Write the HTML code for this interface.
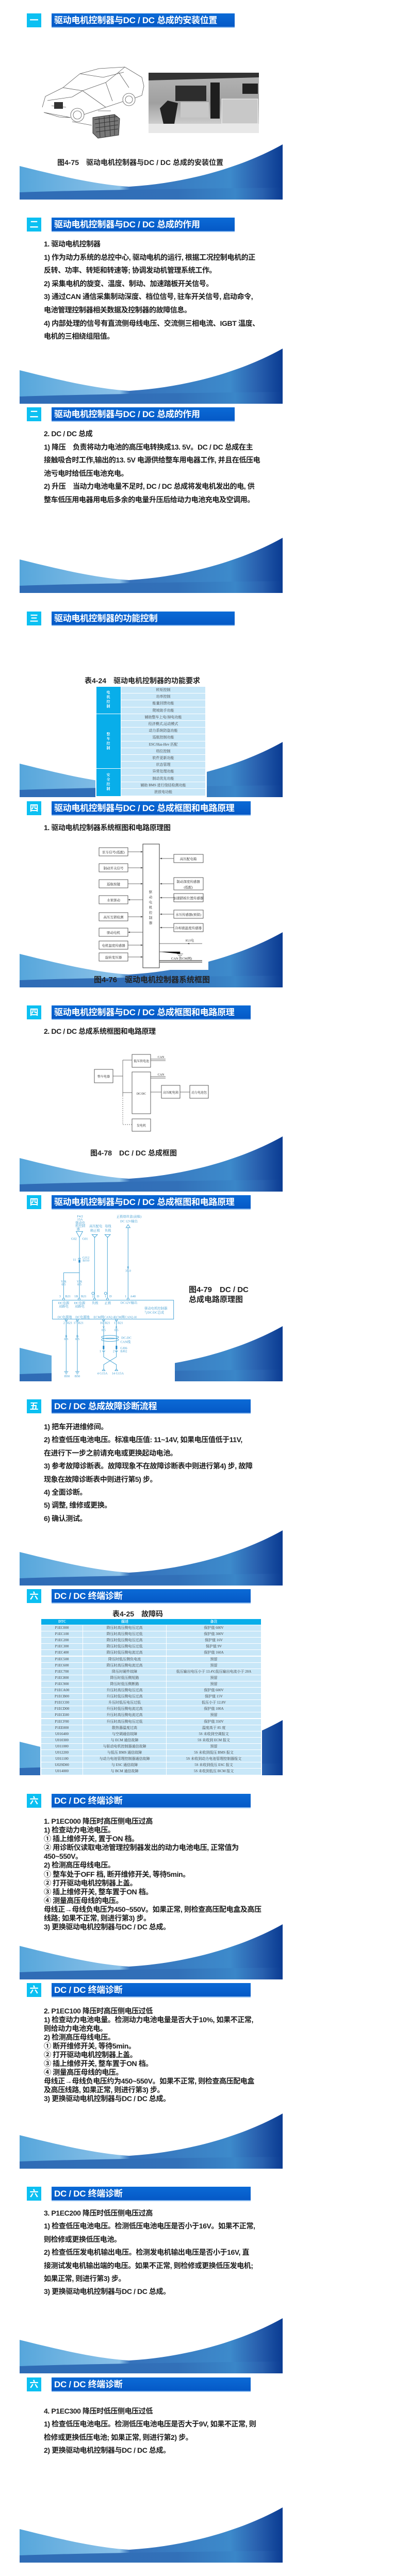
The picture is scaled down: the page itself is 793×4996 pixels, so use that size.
<!DOCTYPE html>
<html><head><meta charset="utf-8">
<style>
*{margin:0;padding:0;box-sizing:border-box}
html,body{width:793px;height:4996px;background:#fff;overflow:hidden}
body{position:relative;font-family:"Liberation Sans","Noto Sans CJK SC",sans-serif;color:#1a1a1a}
svg.bg{position:absolute;left:0;top:0}
.n{position:absolute;left:52px;width:28px;height:27px;background:#0cc0f2;color:#fff;font-weight:bold;font-size:17px;line-height:27px;text-align:center}
.t{position:absolute;left:100px;height:28px;background:linear-gradient(#0b6ad6,#0559c6);border-bottom:2px solid #8bbbf0;color:#fff;font-weight:bold;font-size:17px;line-height:27px;padding-left:5px;white-space:nowrap;letter-spacing:-0.3px}
.p{position:absolute;left:85px;font-weight:bold;font-size:14px;white-space:nowrap;letter-spacing:-0.4px;color:#1c1c1c}
.cap{position:absolute;font-weight:bold;font-size:14px;white-space:nowrap;color:#222}
.tb{position:absolute;font-family:"Liberation Serif","Noto Serif CJK SC",serif;font-size:7px;color:#444}
.tb div{position:absolute;text-align:center;white-space:nowrap;overflow:hidden}
</style></head><body>
<svg class="bg" width="793" height="4996" viewBox="0 0 793 4996" xmlns="http://www.w3.org/2000/svg">
<defs>
<linearGradient id="g1" x1="0" x2="1" y1="0" y2="0">
<stop offset="0" stop-color="#56a6db"/><stop offset="0.38" stop-color="#8cc2e9"/><stop offset="0.42" stop-color="#3672bb"/><stop offset="0.8" stop-color="#3d8acb"/><stop offset="0.9" stop-color="#2a62b0"/><stop offset="1" stop-color="#0a3b92"/>
</linearGradient>
<linearGradient id="g2" x1="0" x2="1" y1="0" y2="0">
<stop offset="0" stop-color="#2f6cb6"/><stop offset="0.6" stop-color="#3270b8"/><stop offset="0.82" stop-color="#3a86c8"/><stop offset="0.92" stop-color="#2a62b0"/><stop offset="1" stop-color="#0a3b92"/>
</linearGradient>
<linearGradient id="ph" x1="0" x2="0" y1="0" y2="1">
<stop offset="0" stop-color="#b5b5b5"/><stop offset="0.5" stop-color="#a0a0a0"/><stop offset="1" stop-color="#e0e0e0"/>
</linearGradient>
<g id="w">
<path d="M0,42 C80,62 150,78 212,82 C320,76 430,45 510,0 L510,107 L0,107Z" fill="url(#g1)"/>
<path d="M0,93 C150,88 330,86 510,84 L510,107 L0,107Z" fill="url(#g2)"/>
</g>
</defs>
<use href="#w" transform="translate(38,280)"/>
<use href="#w" transform="translate(38,676)"/>
<use href="#w" transform="translate(38,1043)"/>
<use href="#w" transform="translate(38,1439)"/>
<use href="#w" transform="translate(38,1808)"/>
<use href="#w" transform="translate(38,2204)"/>
<use href="#w" transform="translate(38,2572)"/>
<use href="#w" transform="translate(38,2968)"/>
<use href="#w" transform="translate(38,3336)"/>
<use href="#w" transform="translate(38,3732)"/>
<use href="#w" transform="translate(38,4099)"/>
<use href="#w" transform="translate(38,4496)"/>
<use href="#w" transform="translate(38,4863)"/>

<!-- slide 1 images -->
<g fill="none" stroke="#555" stroke-width="0.8">
<path d="M82,208 L88,187 L122,170 L155,143 L192,133 L242,130 L275,150 L279,167 L275,185 L262,190 M238,197 L163,222 M137,228 L115,227 L85,218 Z"/>
<path d="M122,170 L160,176 L205,160 L230,140 L242,130 M160,176 L205,208 M205,160 L218,196 M230,140 L250,170 M155,143 L200,150 L240,140"/>
<path d="M92,195 L140,188 L160,176 M100,205 L128,208"/>
<circle cx="250" cy="193" r="12"/><circle cx="250" cy="193" r="7"/>
<circle cx="150" cy="223" r="13"/><circle cx="150" cy="223" r="8"/>
<path d="M140,236 L178,243 M190,215 L215,215"/>
</g>
<rect x="105" y="198" width="17" height="13" fill="#333"/>
<g stroke="#333" stroke-width="1" fill="#777">
<path d="M180,228 L222,222 L232,230 L230,262 L190,268 L180,258 Z"/>
<path d="M183,232 L228,226 M184,240 L229,234 M185,248 L229,242 M186,256 L229,250 M192,228 L194,266 M202,226 L204,266 M212,224 L214,264 M222,222 L222,262" fill="none"/>
</g>
<rect x="288" y="141" width="214" height="117" fill="url(#ph)"/>
<path d="M288,141 L502,141 L502,150 L288,156Z" fill="#333"/>
<rect x="340" y="166" width="60" height="30" fill="#2d2d2d"/>
<rect x="350" y="198" width="55" height="30" fill="#c8c8c8"/>
<path d="M310,210 L325,195 L345,200 L338,240 L318,245Z" fill="#222"/>
<rect x="408" y="160" width="18" height="70" fill="#1e1e1e"/>
<rect x="430" y="192" width="70" height="48" fill="#c8c8c8" stroke="#eee" stroke-width="1.2"/>
<rect x="288" y="240" width="214" height="18" fill="#e8e8e8"/>
<rect x="470" y="162" width="30" height="20" fill="#222"/>

<!-- table 4-24 bg -->
<rect x="185" y="1330" width="216" height="217" fill="#fff"/>
<!-- fig 4-76 -->
<rect x="182" y="1625" width="222" height="256" fill="#fff"/>
<g stroke="#333" stroke-width="0.8" fill="#fff">
<rect x="277" y="1637" width="32" height="240" stroke-width="1"/>
<rect x="192" y="1644" width="56" height="16"/><rect x="192" y="1675" width="56" height="16"/>
<rect x="192" y="1706" width="56" height="16"/><rect x="192" y="1737" width="56" height="16"/>
<rect x="192" y="1770" width="56" height="16"/><rect x="192" y="1800" width="56" height="16"/>
<rect x="192" y="1825" width="56" height="16"/><rect x="192" y="1848" width="56" height="16"/>
<rect x="337" y="1657" width="57" height="16"/><rect x="337" y="1702" width="57" height="24"/>
<rect x="337" y="1733" width="57" height="16"/><rect x="337" y="1765" width="57" height="16"/>
<rect x="337" y="1791" width="57" height="16"/>
</g>
<g stroke="#444" stroke-width="0.7">
<path d="M248,1652H277M248,1683H277M248,1714H277M248,1745H277M248,1778H277M248,1808H277M248,1833H277M248,1856H277"/>
<path d="M310,1665H337M310,1714H337M310,1741H337M310,1773H337M310,1799H337M309,1830H392M309,1846H349V1850M343,1850H355M345,1853H353M347,1856H351"/>
<path d="M309,1863H392M309,1866H392" stroke-width="1.2"/>
</g>
<g fill="#444">
<path d="M277,1652l-4,-1.5v3zM277,1683l-4,-1.5v3zM277,1714l-4,-1.5v3zM248,1745l4,-1.5v3zM277,1778l-4,-1.5v3zM248,1808l4,-1.5v3zM277,1833l-4,-1.5v3zM277,1856l-4,-1.5v3z"/>
<path d="M310,1665l4,-1.5v3zM310,1714l4,-1.5v3zM310,1741l4,-1.5v3zM310,1773l4,-1.5v3zM310,1799l4,-1.5v3zM363,1830l4,-1.5v3z"/>
</g>
<g font-family="Liberation Serif,Noto Serif CJK SC,serif" font-size="6.5" fill="#222" text-anchor="middle">
<text x="220" y="1655">驻车信号(低配)</text><text x="220" y="1686">制动开关信号</text>
<text x="220" y="1717">巡航按键</text><text x="220" y="1748">水泵驱动</text>
<text x="220" y="1781">高压互锁检测</text><text x="220" y="1811">驱动电机</text>
<text x="220" y="1836">电机温度传感器</text><text x="220" y="1859">旋转变压器</text>
<text x="365" y="1668">高压配电箱</text><text x="365" y="1712">制动深度传感器</text><text x="365" y="1723">(低配)</text>
<text x="365" y="1744">加速踏板位置传感器</text><text x="365" y="1776">水压传感器(预留)</text>
<text x="365" y="1802">冷却液温度传感器</text>
<text x="368" y="1826">IG1电</text><text x="352" y="1861">CAN (ECM网)</text>
<text x="292" y="1732">驱</text><text x="292" y="1742">动</text><text x="292" y="1752">电</text><text x="292" y="1762">机</text><text x="292" y="1772">控</text><text x="292" y="1782">制</text><text x="292" y="1792">器</text>
</g>

<!-- fig 4-78 -->
<g stroke="#333" stroke-width="0.8" fill="#fff">
<rect x="256" y="2045" width="36" height="25"/><rect x="183" y="2074" width="36" height="26"/>
<rect x="256" y="2079" width="36" height="81"/><rect x="313" y="2105" width="36" height="25"/>
<rect x="368" y="2105" width="36" height="25"/><rect x="256" y="2170" width="36" height="24"/>
</g>
<g stroke="#444" stroke-width="0.7" fill="none">
<path d="M238,2056V2125M238,2056H256M219,2087H238M238,2119H256M292,2118H313M349,2118H368"/>
<path d="M238,2125V2181H256" stroke-dasharray="2,2"/>
<path d="M292,2054H321M292,2057H321M292,2088H321M292,2091H321"/>
</g>
<g font-family="Liberation Serif,Noto Serif CJK SC,serif" font-size="6" fill="#222" text-anchor="middle">
<text x="274" y="2060">低压铁电池</text><text x="201" y="2090">整车电器</text><text x="274" y="2123">DC/DC</text>
<text x="331" y="2121">高压配电箱</text><text x="386" y="2121">动力电池包</text><text x="274" y="2185">发电机</text>
<text x="312" y="2052">CAN</text><text x="312" y="2086">CAN</text>
</g>

<!-- fig 4-79 -->
<rect x="100" y="2345" width="239" height="334" fill="#fff"/>
<g transform="translate(95,2345) scale(0.3333)">
<g stroke="#4aa6d6" stroke-width="3" fill="none">
<rect x="20" y="530" width="705" height="110"/>
<path d="M177,165V520M85,370H177M85,370V520M265,160V520M340,160V520M460,105V520"/>
<path d="M158,130H196L177,165Z M250,148H282L266,165Z M325,148H357L341,165Z M448,108H472L460,90Z"/>
<path d="M100,645V945M165,645V945M318,645V840M392,645V840"/>
<path d="M88,945H112M92,952H108M96,959H104M153,945H177M157,952H173M161,959H169"/>
<ellipse cx="355" cy="745" rx="50" ry="10"/><ellipse cx="355" cy="760" rx="50" ry="10"/>
<path d="M318,840L318,860L392,905V930M392,840V860L318,905V930"/>
<path d="M310,940L318,930L326,940ZM384,940L392,930L400,940Z"/>
<circle cx="85" cy="524" r="6"/><circle cx="175" cy="524" r="6"/><circle cx="265" cy="524" r="6"/><circle cx="340" cy="524" r="6"/><circle cx="460" cy="524" r="6"/>
<circle cx="100" cy="646" r="6"/><circle cx="165" cy="646" r="6"/><circle cx="318" cy="646" r="6"/><circle cx="392" cy="646" r="6"/>
<circle cx="256" cy="490" r="7"/><circle cx="329" cy="490" r="7"/>
<path d="M170,292a7,7 0 0 1 14,0M311,823a7,7 0 0 0 14,0M385,823a7,7 0 0 0 14,0"/>
</g>
<g fill="#1f86c9"><rect x="172" y="295" width="10" height="16"/><rect x="313" y="795" width="9" height="20"/><rect x="388" y="795" width="9" height="20"/></g>
<g font-family="Liberation Serif,Noto Serif CJK SC,serif" font-size="19" fill="#3b9ad0" text-anchor="middle">
<text x="180" y="48">F4/2</text><text x="180" y="66">15A</text><text x="182" y="85">驱动电</text><text x="182" y="104">机控制</text><text x="170" y="123">器</text>
<text x="145" y="178">G02</text><text x="210" y="178">G01</text>
<text x="148" y="300">11</text><text x="215" y="288">GJ12</text><text x="215" y="305">BJ10</text>
<text x="272" y="105">高压配电</text><text x="268" y="130">箱正极</text><text x="343" y="105">母线</text><text x="343" y="130">负极</text>
<text x="465" y="50">正极熔丝盒(前舱)</text><text x="465" y="76">DC 12V输出</text>
<text x="460" y="345">R</text><text x="460" y="365">35.0</text>
<text x="85" y="428">Y/R</text><text x="85" y="444">0.5</text><text x="177" y="428">Y/R</text><text x="177" y="444">0.5</text>
<text x="64" y="513">3</text><text x="110" y="513">B21</text><text x="158" y="513">1B</text><text x="202" y="513">B21</text>
<text x="255" y="513">2</text><text x="285" y="513">D</text><text x="328" y="513">1</text><text x="358" y="513">D</text>
<text x="446" y="513">1</text><text x="488" y="513">A40</text>
<text x="85" y="552">DC电源</text><text x="85" y="572">双路电</text><text x="178" y="552">DC电源</text><text x="178" y="572">双路电</text>
<text x="268" y="552">负极</text><text x="342" y="552">正极</text><text x="465" y="550">DC12V输出</text>
<text x="622" y="583">驱动电机控制器</text><text x="612" y="607">与DC/DC总成</text>
<text x="92" y="635">DC电源地</text><text x="195" y="635">DC电源地</text><text x="323" y="635">ECM网CAN2-L</text><text x="445" y="635">ECM网CAN2-H</text>
<text x="88" y="668">2</text><text x="120" y="668">B21</text><text x="152" y="668">17</text><text x="185" y="668">B21</text>
<text x="305" y="668">16</text><text x="340" y="668">B21</text><text x="382" y="668">1</text><text x="415" y="668">B21</text>
<text x="318" y="694">V</text><text x="318" y="710">0.5</text><text x="392" y="694">P</text><text x="392" y="710">0.5</text>
<text x="100" y="745">B</text><text x="100" y="762">0.5</text><text x="165" y="745">B</text><text x="165" y="762">0.5</text>
<text x="450" y="755">DC-DC</text><text x="445" y="778">CAN线</text>
<text x="298" y="832">1</text><text x="376" y="832">2</text><text x="435" y="815">GJ06</text><text x="435" y="832">BJ02</text>
<text x="310" y="962">4 G15A</text><text x="400" y="962">14 G15A</text>
<text x="105" y="978">B50</text><text x="165" y="978">B50</text>
</g>
</g>

<!-- table 4-25 bg -->
<rect x="78" y="3137" width="430" height="307" fill="#fff"/>
</svg>

<!-- titles -->
<div class="n" style="top:26px">一</div><div class="t" style="top:26px;width:355px">驱动电机控制器与DC / DC 总成的安装位置</div>
<div class="n" style="top:422px">二</div><div class="t" style="top:422px;width:355px">驱动电机控制器与DC / DC 总成的作用</div>
<div class="n" style="top:790px">二</div><div class="t" style="top:790px;width:355px">驱动电机控制器与DC / DC 总成的作用</div>
<div class="n" style="top:1186px">三</div><div class="t" style="top:1186px;width:355px">驱动电机控制器的功能控制</div>
<div class="n" style="top:1554px">四</div><div class="t" style="top:1554px;width:386px">驱动电机控制器与DC / DC 总成框图和电路原理</div>
<div class="n" style="top:1950px">四</div><div class="t" style="top:1950px;width:386px">驱动电机控制器与DC / DC 总成框图和电路原理</div>
<div class="n" style="top:2318px">四</div><div class="t" style="top:2318px;width:386px">驱动电机控制器与DC / DC 总成框图和电路原理</div>
<div class="n" style="top:2714px">五</div><div class="t" style="top:2714px;width:386px">DC / DC 总成故障诊断流程</div>
<div class="n" style="top:3082px">六</div><div class="t" style="top:3082px;width:386px">DC / DC 终端诊断</div>
<div class="n" style="top:3479px">六</div><div class="t" style="top:3479px;width:386px">DC / DC 终端诊断</div>
<div class="n" style="top:3846px">六</div><div class="t" style="top:3846px;width:386px">DC / DC 终端诊断</div>
<div class="n" style="top:4241px">六</div><div class="t" style="top:4241px;width:386px">DC / DC 终端诊断</div>
<div class="n" style="top:4611px">六</div><div class="t" style="top:4611px;width:386px">DC / DC 终端诊断</div>

<div class="cap" style="left:111px;top:305px">图4-75　驱动电机控制器与DC / DC 总成的安装位置</div>

<div class="p" style="top:461px;line-height:25.6px">1. 驱动电机控制器<br>1) 作为动力系统的总控中心, 驱动电机的运行, 根据工况控制电机的正<br>反转、功率、转矩和转速等; 协调发动机管理系统工作。<br>2) 采集电机的旋变、温度、制动、加速踏板开关信号。<br>3) 通过CAN 通信采集制动深度、档位信号, 驻车开关信号, 启动命令,<br>电池管理控制器相关数据及控制器的故障信息。<br>4) 内部处理的信号有直流侧母线电压、交流侧三相电流、IGBT 温度、<br>电机的三相绕组阻值。</div>

<div class="p" style="top:829px;line-height:25.6px">2. DC / DC 总成<br>1) 降压　负责将动力电池的高压电转换成13. 5V。DC / DC 总成在主<br>接触吸合时工作,输出的13. 5V 电源供给整车用电器工作, 并且在低压电<br>池亏电时给低压电池充电。<br>2) 升压　当动力电池电量不足时, DC / DC 总成将发电机发出的电, 供<br>整车低压用电器用电后多余的电量升压后给动力电池充电及空调用。</div>

<div class="cap" style="left:164px;top:1310px">表4-24　驱动电机控制器的功能要求</div>
<div class="tb" style="left:187px;top:1332px;width:211px;height:212px">
<div style="left:0;top:0;width:47px;height:52px;background:#08aeea"></div>
<div style="left:0;top:53px;width:47px;height:105px;background:#08aeea"></div>
<div style="left:0;top:159px;width:47px;height:53px;background:#08aeea"></div>
<div style="left:18px;top:7px;width:10px;color:#fff;white-space:normal;line-height:9px;font-weight:bold">电机控制</div>
<div style="left:18px;top:88px;width:10px;color:#fff;white-space:normal;line-height:9px;font-weight:bold">整车控制</div>
<div style="left:18px;top:167px;width:10px;color:#fff;white-space:normal;line-height:9px;font-weight:bold">安全控制</div>
<div style="left:48px;top:0;width:163px;height:12.2px;line-height:12px;background:#c8e7f8">转矩控制</div>
<div style="left:48px;top:13.2px;width:163px;height:12.2px;line-height:12px;background:#c8e7f8">功率控制</div>
<div style="left:48px;top:26.4px;width:163px;height:12.2px;line-height:12px;background:#c8e7f8">能量回馈功能</div>
<div style="left:48px;top:39.6px;width:163px;height:12.2px;line-height:12px;background:#c8e7f8">爬坡助手功能</div>
<div style="left:48px;top:52.8px;width:163px;height:12.2px;line-height:12px;background:#c8e7f8">辅助整车上电/掉电功能</div>
<div style="left:48px;top:66px;width:163px;height:12.2px;line-height:12px;background:#c8e7f8">经济模式,运动模式</div>
<div style="left:48px;top:79.2px;width:163px;height:12.2px;line-height:12px;background:#c8e7f8">动力系统防盗功能</div>
<div style="left:48px;top:92.4px;width:163px;height:12.2px;line-height:12px;background:#c8e7f8">巡航控制功能</div>
<div style="left:48px;top:105.6px;width:163px;height:12.2px;line-height:12px;background:#c8e7f8">ESC/Has-Hev 匹配</div>
<div style="left:48px;top:118.8px;width:163px;height:12.2px;line-height:12px;background:#c8e7f8">档位控制</div>
<div style="left:48px;top:132px;width:163px;height:12.2px;line-height:12px;background:#c8e7f8">软件更新功能</div>
<div style="left:48px;top:145.2px;width:163px;height:12.2px;line-height:12px;background:#c8e7f8">状态管理</div>
<div style="left:48px;top:158.4px;width:163px;height:12.2px;line-height:12px;background:#c8e7f8">异常处理功能</div>
<div style="left:48px;top:171.6px;width:163px;height:12.2px;line-height:12px;background:#c8e7f8">制动优先功能</div>
<div style="left:48px;top:184.8px;width:163px;height:12.2px;line-height:12px;background:#c8e7f8">辅助 BMS 进行绕结检测功能</div>
<div style="left:48px;top:198px;width:163px;height:13px;line-height:12px;background:#c8e7f8">泄放电功能</div>
</div>

<div class="p" style="top:1596px;line-height:18px">1. 驱动电机控制器系统框图和电路原理图</div>
<div class="cap" style="left:182px;top:1889px;font-size:15px">图4-76　驱动电机控制器系统框图</div>
<div class="p" style="top:1991px;line-height:18px">2. DC / DC 总成系统框图和电路原理</div>
<div class="cap" style="left:175px;top:2226px">图4-78　DC / DC 总成框图</div>
<div class="cap" style="left:366px;top:2492px;line-height:19px;font-size:15px">图4-79　DC / DC<br>总成电路原理图</div>

<div class="p" style="top:2755px;line-height:25.4px">1) 把车开进维修间。<br>2) 检查低压电池电压。标准电压值: 11~14V, 如果电压值低于11V,<br>在进行下一步之前请充电或更换起动电池。<br>3) 参考故障诊断表。故障现象不在故障诊断表中则进行第4) 步, 故障<br>现象在故障诊断表中则进行第5) 步。<br>4) 全面诊断。<br>5) 调整, 维修或更换。<br>6) 确认测试。</div>

<div class="cap" style="left:218px;top:3120px">表4-25　故障码</div>
<div class="tb" style="left:80px;top:3140px;width:426px;height:302px">
<div style="left:0;top:0;width:426px;height:11px;background:#08aeea"></div>
<div style="left:0;top:0;width:81px;line-height:11px;color:#fff;font-weight:bold">DTC</div>
<div style="left:81px;top:0;width:162px;line-height:11px;color:#fff;font-weight:bold">描述</div>
<div style="left:243px;top:0;width:183px;line-height:11px;color:#fff;font-weight:bold">备注</div>
</div>

<div class="p" style="top:3524px;line-height:17.1px">1. P1EC000 降压时高压侧电压过高<br>1) 检查动力电池电压。<br>① 插上维修开关, 置于ON 档。<br>② 用诊断仪读取电池管理控制器发出的动力电池电压, 正常值为<br>450~550V。<br>2) 检测高压母线电压。<br>① 整车处于OFF 档, 断开维修开关, 等待5min。<br>② 打开驱动电机控制器上盖。<br>③ 插上维修开关, 整车置于ON 档。<br>④ 测量高压母线的电压。<br>母线正→母线负电压为450~550V。如果正常, 则检查高压配电盒及高压<br>线路; 如果不正常, 则进行第3) 步。<br>3) 更换驱动电机控制器与DC / DC 总成。</div>

<div class="p" style="top:3892px;line-height:17px">2. P1EC100 降压时高压侧电压过低<br>1) 检查动力电池电量。检测动力电池电量是否大于10%, 如果不正常,<br>则给动力电池充电。<br>2) 检测高压母线电压。<br>① 断开维修开关, 等待5min。<br>② 打开驱动电机控制器上盖。<br>③ 插上维修开关, 整车置于ON 档。<br>④ 测量高压母线的电压。<br>母线正→母线负电压约为450~550V。如果不正常, 则检查高压配电盒<br>及高压线路, 如果正常, 则进行第3) 步。<br>3) 更换驱动电机控制器与DC / DC 总成。</div>

<div class="p" style="top:4280px;line-height:25.4px">3. P1EC200 降压时低压侧电压过高<br>1) 检查低压电池电压。检测低压电池电压是否小于16V。如果不正常,<br>则检修或更换低压电池。<br>2) 检查低压发电机输出电压。检测发电机输出电压是否小于16V, 直<br>接测试发电机输出端的电压。如果不正常, 则检修或更换低压发电机;<br>如果正常, 则进行第3) 步。<br>3) 更换驱动电机控制器与DC / DC 总成。</div>

<div class="p" style="top:4664px;line-height:25.4px">4. P1EC300 降压时低压侧电压过低<br>1) 检查低压电池电压。检测低压电池电压是否大于9V, 如果不正常, 则<br>检修或更换低压电池; 如果正常, 则进行第2) 步。<br>2) 更换驱动电机控制器与DC / DC 总成。</div>

<div class="tb" style="left:80px;top:3152px;width:426px;height:290px;line-height:11px">
<div style="left:0;top:0;width:80px;height:11.1px;background:#c8e7f8">P1EC000</div><div style="left:81px;top:0;width:161px;height:11.1px;background:#c8e7f8">降压时高压侧电压过高</div><div style="left:243px;top:0;width:183px;height:11.1px;background:#c8e7f8">保护值 600V</div>
<div style="left:0;top:12.1px;width:80px;height:11.1px;background:#c8e7f8">P1EC100</div><div style="left:81px;top:12.1px;width:161px;height:11.1px;background:#c8e7f8">降压时高压侧电压过低</div><div style="left:243px;top:12.1px;width:183px;height:11.1px;background:#c8e7f8">保护值 300V</div>
<div style="left:0;top:24.2px;width:80px;height:11.1px;background:#c8e7f8">P1EC200</div><div style="left:81px;top:24.2px;width:161px;height:11.1px;background:#c8e7f8">降压时低压侧电压过高</div><div style="left:243px;top:24.2px;width:183px;height:11.1px;background:#c8e7f8">保护值 16V</div>
<div style="left:0;top:36.3px;width:80px;height:11.1px;background:#c8e7f8">P1EC300</div><div style="left:81px;top:36.3px;width:161px;height:11.1px;background:#c8e7f8">降压时低压侧电压过低</div><div style="left:243px;top:36.3px;width:183px;height:11.1px;background:#c8e7f8">保护值 9V</div>
<div style="left:0;top:48.4px;width:80px;height:11.1px;background:#c8e7f8">P1EC400</div><div style="left:81px;top:48.4px;width:161px;height:11.1px;background:#c8e7f8">降压时低压侧电流过高</div><div style="left:243px;top:48.4px;width:183px;height:11.1px;background:#c8e7f8">保护值 160A</div>
<div style="left:0;top:60.5px;width:80px;height:11.1px;background:#c8e7f8">P1EC500</div><div style="left:81px;top:60.5px;width:161px;height:11.1px;background:#c8e7f8">降压时低压侧负电流</div><div style="left:243px;top:60.5px;width:183px;height:11.1px;background:#c8e7f8">预留</div>
<div style="left:0;top:72.6px;width:80px;height:11.1px;background:#c8e7f8">P1EC600</div><div style="left:81px;top:72.6px;width:161px;height:11.1px;background:#c8e7f8">降压时高压侧电流过高</div><div style="left:243px;top:72.6px;width:183px;height:11.1px;background:#c8e7f8">预留</div>
<div style="left:0;top:84.7px;width:80px;height:11.1px;background:#c8e7f8">P1EC700</div><div style="left:81px;top:84.7px;width:161px;height:11.1px;background:#c8e7f8">降压时硬件故障</div><div style="left:243px;top:84.7px;width:183px;height:11.1px;background:#c8e7f8">低压输出电压小于 13.4V,低压输出电流小于 20A</div>
<div style="left:0;top:96.8px;width:80px;height:11.1px;background:#c8e7f8">P1EC800</div><div style="left:81px;top:96.8px;width:161px;height:11.1px;background:#c8e7f8">降压时低压侧短路</div><div style="left:243px;top:96.8px;width:183px;height:11.1px;background:#c8e7f8">预留</div>
<div style="left:0;top:108.9px;width:80px;height:11.1px;background:#c8e7f8">P1EC900</div><div style="left:81px;top:108.9px;width:161px;height:11.1px;background:#c8e7f8">降压时低压侧断路</div><div style="left:243px;top:108.9px;width:183px;height:11.1px;background:#c8e7f8">预留</div>
<div style="left:0;top:121px;width:80px;height:11.1px;background:#c8e7f8">P1ECA00</div><div style="left:81px;top:121px;width:161px;height:11.1px;background:#c8e7f8">升压时高压侧电压过高</div><div style="left:243px;top:121px;width:183px;height:11.1px;background:#c8e7f8">保护值 600V</div>
<div style="left:0;top:133.1px;width:80px;height:11.1px;background:#c8e7f8">P1ECB00</div><div style="left:81px;top:133.1px;width:161px;height:11.1px;background:#c8e7f8">升压时低压侧电压过高</div><div style="left:243px;top:133.1px;width:183px;height:11.1px;background:#c8e7f8">保护值 15V</div>
<div style="left:0;top:145.2px;width:80px;height:11.1px;background:#c8e7f8">P1ECC00</div><div style="left:81px;top:145.2px;width:161px;height:11.1px;background:#c8e7f8">升压时低压电压过低</div><div style="left:243px;top:145.2px;width:183px;height:11.1px;background:#c8e7f8">低压小于 12.8V</div>
<div style="left:0;top:157.3px;width:80px;height:11.1px;background:#c8e7f8">P1ECD00</div><div style="left:81px;top:157.3px;width:161px;height:11.1px;background:#c8e7f8">升压时低压侧电流过高</div><div style="left:243px;top:157.3px;width:183px;height:11.1px;background:#c8e7f8">保护值 100A</div>
<div style="left:0;top:169.4px;width:80px;height:11.1px;background:#c8e7f8">P1ECE00</div><div style="left:81px;top:169.4px;width:161px;height:11.1px;background:#c8e7f8">升压时高压侧电流过高</div><div style="left:243px;top:169.4px;width:183px;height:11.1px;background:#c8e7f8">预留</div>
<div style="left:0;top:181.5px;width:80px;height:11.1px;background:#c8e7f8">P1ECF00</div><div style="left:81px;top:181.5px;width:161px;height:11.1px;background:#c8e7f8">升压时高压侧电压过低</div><div style="left:243px;top:181.5px;width:183px;height:11.1px;background:#c8e7f8">保护值 350V</div>
<div style="left:0;top:193.6px;width:80px;height:11.1px;background:#c8e7f8">P1EE000</div><div style="left:81px;top:193.6px;width:161px;height:11.1px;background:#c8e7f8">散热器温度过高</div><div style="left:243px;top:193.6px;width:183px;height:11.1px;background:#c8e7f8">温度高于 85 度</div>
<div style="left:0;top:205.7px;width:80px;height:11.1px;background:#c8e7f8">U016400</div><div style="left:81px;top:205.7px;width:161px;height:11.1px;background:#c8e7f8">与空调通信故障</div><div style="left:243px;top:205.7px;width:183px;height:11.1px;background:#c8e7f8">5S 未收到空调报文</div>
<div style="left:0;top:217.8px;width:80px;height:11.1px;background:#c8e7f8">U010300</div><div style="left:81px;top:217.8px;width:161px;height:11.1px;background:#c8e7f8">与 ECM 通信故障</div><div style="left:243px;top:217.8px;width:183px;height:11.1px;background:#c8e7f8">5S 未收到 ECM 报文</div>
<div style="left:0;top:229.9px;width:80px;height:11.1px;background:#c8e7f8">U011000</div><div style="left:81px;top:229.9px;width:161px;height:11.1px;background:#c8e7f8">与驱动电机控制器通信故障</div><div style="left:243px;top:229.9px;width:183px;height:11.1px;background:#c8e7f8">预留</div>
<div style="left:0;top:242px;width:80px;height:11.1px;background:#c8e7f8">U012200</div><div style="left:81px;top:242px;width:161px;height:11.1px;background:#c8e7f8">与低压 BMS 通信故障</div><div style="left:243px;top:242px;width:183px;height:11.1px;background:#c8e7f8">5S 未收到低压 BMS 报文</div>
<div style="left:0;top:254.1px;width:80px;height:11.1px;background:#c8e7f8">U011100</div><div style="left:81px;top:254.1px;width:161px;height:11.1px;background:#c8e7f8">与动力电池管理控制器通信故障</div><div style="left:243px;top:254.1px;width:183px;height:11.1px;background:#c8e7f8">5S 未收到动力电池管理控制器报文</div>
<div style="left:0;top:266.2px;width:80px;height:11.1px;background:#c8e7f8">U029D00</div><div style="left:81px;top:266.2px;width:161px;height:11.1px;background:#c8e7f8">与 ESC 通信故障</div><div style="left:243px;top:266.2px;width:183px;height:11.1px;background:#c8e7f8">5S 未收到低压 ESC 报文</div>
<div style="left:0;top:278.3px;width:80px;height:11.7px;background:#c8e7f8">U014000</div><div style="left:81px;top:278.3px;width:161px;height:11.7px;background:#c8e7f8">与 BCM 通信故障</div><div style="left:243px;top:278.3px;width:183px;height:11.7px;background:#c8e7f8">5S 未收到低压 BCM 报文</div>
</div>
</body></html>
